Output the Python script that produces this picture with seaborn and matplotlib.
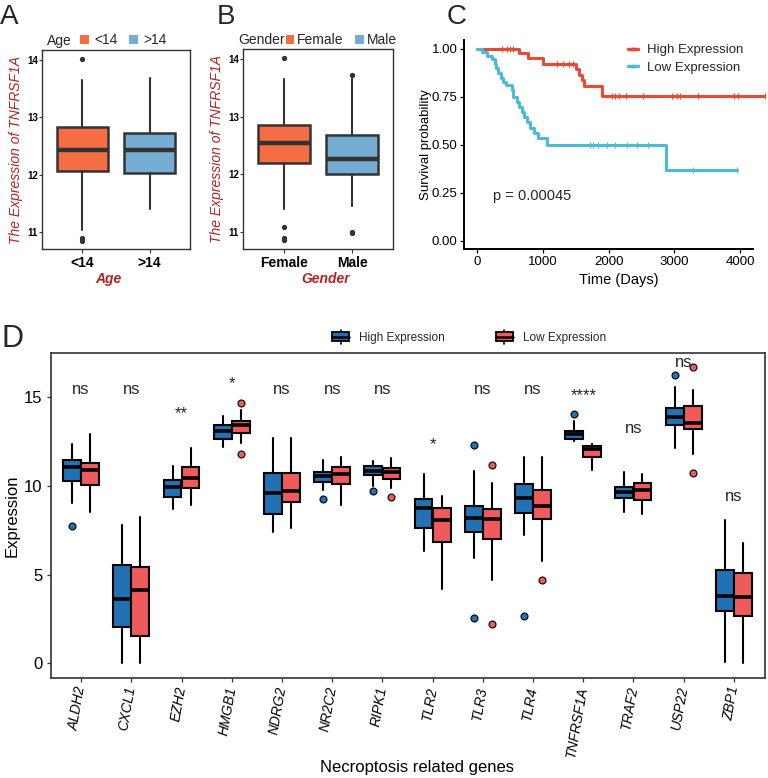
import numpy as np
import matplotlib
matplotlib.use("Agg")
import matplotlib.pyplot as plt
import seaborn as sns
from matplotlib.patches import Patch, Rectangle
from matplotlib.lines import Line2D
from matplotlib.legend_handler import HandlerBase

# ---------------- DATA ----------------
# Panel A (Age)
age_groups = ["<14", ">14"]
age_q1 = [12.07, 12.03]
age_med = [12.44, 12.43]
age_q3 = [12.83, 12.72]
age_whislo = [11.03, 11.40]
age_whishi = [13.66, 13.69]
age_fliers = [[14.02, 10.90, 10.84], []]

# Panel B (Gender)
gender_groups = ["Female", "Male"]
gender_q1 = [12.20, 12.01]
gender_med = [12.54, 12.26]
gender_q3 = [12.86, 12.69]
gender_whislo = [11.40, 11.44]
gender_whishi = [13.65, 13.68]
gender_fliers = [[14.02, 11.09, 10.90, 10.85], [13.72, 11.00, 10.98]]

# Panel C (Kaplan-Meier)
km_high_time = [0, 630, 770, 1000, 1510, 1550, 1590, 1620, 1900, 4380]
km_high_surv = [1.0, 0.979, 0.95, 0.922, 0.892, 0.863, 0.835, 0.806, 0.754, 0.754]
km_low_time = [0, 67, 143, 219, 270, 285, 320, 356, 396, 437, 523, 548, 600, 639,
               676, 711, 752, 802, 863, 928, 1065, 2872, 3948]
km_low_surv = [1.0, 0.984, 0.964, 0.946, 0.919, 0.898, 0.872, 0.849, 0.828, 0.811,
               0.785, 0.75, 0.724, 0.698, 0.672, 0.646, 0.617, 0.585, 0.559, 0.533,
               0.498, 0.368, 0.368]
km_high_censor = [371, 447, 498, 548, 1218, 1309, 1400, 1461, 2046, 2096, 2161, 2263,
                  2517, 2959, 3035, 3085, 3364, 3907, 3973, 4379]
km_low_censor = [1715, 1766, 1842, 1970, 2096, 2274, 2426, 2603, 3288, 3948]
km_pvalue = "p = 0.00045"

# Panel D (genes)
genes = ["ALDH2", "CXCL1", "EZH2", "HMGB1", "NDRG2", "NR2C2", "RIPK1", "TLR2",
         "TLR3", "TLR4", "TNFRSF1A", "TRAF2", "USP22", "ZBP1"]
high_q1 = [10.30, 2.03, 9.40, 12.63, 8.40, 10.24, 10.62, 7.61, 7.39, 8.46, 12.65, 9.30, 13.44, 2.95]
high_med = [11.05, 3.64, 9.96, 13.12, 9.62, 10.56, 10.86, 8.74, 8.21, 9.32, 12.93, 9.68, 13.91, 3.81]
high_q3 = [11.47, 5.56, 10.34, 13.44, 10.75, 10.81, 11.13, 9.27, 8.87, 10.11, 13.12, 9.96, 14.38, 5.26]
high_lo = [9.06, 0.03, 8.69, 12.18, 7.42, 9.77, 10.00, 6.35, 5.96, 7.24, 12.56, 8.55, 12.13, 0.09]
high_hi = [12.37, 7.80, 11.13, 13.97, 12.69, 11.47, 11.43, 10.68, 10.85, 11.65, 13.68, 10.81, 15.57, 8.08]
high_fliers = [[7.76], [], [], [], [], [9.25], [9.72], [], [12.31, 2.54], [2.69], [14.04], [], [16.24], []]

low_q1 = [10.06, 1.56, 9.87, 12.97, 9.12, 10.11, 10.38, 6.82, 7.01, 8.12, 11.62, 9.21, 13.23, 2.67]
low_med = [10.90, 4.12, 10.43, 13.44, 9.73, 10.68, 10.81, 8.08, 8.12, 8.87, 12.07, 9.77, 13.54, 3.72]
low_q3 = [11.28, 5.45, 11.09, 13.67, 10.75, 11.09, 11.03, 8.74, 8.68, 9.77, 12.26, 10.15, 14.51, 5.08]
low_lo = [8.55, 0.03, 8.93, 12.44, 7.65, 8.93, 9.87, 4.17, 4.70, 5.77, 10.90, 8.42, 11.80, 0.03]
low_hi = [12.93, 8.23, 12.13, 14.29, 12.69, 11.65, 11.56, 9.44, 10.19, 11.65, 12.37, 10.68, 15.41, 6.77]
low_fliers = [[], [], [], [14.70, 11.80], [], [], [9.40], [], [11.18, 2.22], [4.70], [], [], [16.69, 10.71], []]

sig_labels = ["ns", "ns", "**", "*", "ns", "ns", "ns", "*", "ns", "ns", "****", "ns", "ns", "ns"]
sig_y = [15.19, 15.19, 13.8, 15.5, 15.19, 15.19, 15.19, 12.07, 15.19, 15.19, 14.85, 13.0, 16.73, 9.17]

# ---------------- STYLE ----------------
sns.set_theme(style="ticks")
plt.rcParams["font.family"] = ["Liberation Sans", "DejaVu Sans"]

W, H = 768, 778
fig = plt.figure(figsize=(W / 100, H / 100), dpi=100)


def ax_px(l, t, r, b):
    return fig.add_axes([l / W, 1 - b / H, (r - l) / W, (b - t) / H])


def make_stats(q1, med, q3, lo, hi, fl):
    return [dict(q1=a, med=m, q3=c, whislo=l, whishi=h, fliers=f)
            for a, m, c, l, h, f in zip(q1, med, q3, lo, hi, fl)]


ORANGE = "#F46D43"
LBLUE = "#74ADD1"
FIRE = "#B22222"
EDGE = "#333333"


def draw_ab(ax, groups, q1, med, q3, lo, hi, fl, xlabel, xlabel_x):
    st = make_stats(q1, med, q3, lo, hi, fl)
    bp = ax.bxp(st, positions=range(len(groups)), widths=0.76, patch_artist=True,
                showcaps=False,
                boxprops=dict(edgecolor=EDGE, linewidth=1.8),
                medianprops=dict(color=EDGE, linewidth=3.2),
                whiskerprops=dict(color=EDGE, linewidth=1.5),
                flierprops=dict(marker="o", markersize=2.8, markerfacecolor=EDGE,
                                markeredgecolor=EDGE, linestyle="none"))
    for box, c in zip(bp["boxes"], [ORANGE, LBLUE]):
        box.set_facecolor(c)
    ax.set_xlim(-0.6, 1.6)
    ax.set_ylim(10.70, 14.18)
    ax.set_yticks([11, 12, 13, 14])
    ax.set_xticks(range(len(groups)))
    ax.set_xticklabels(groups)
    for lab in ax.get_xticklabels():
        lab.set_fontweight("bold")
        lab.set_fontsize(10)
        lab.set_color("black")
    for lab in ax.get_yticklabels():
        lab.set_fontweight("bold")
        lab.set_fontsize(7)
        lab.set_color("black")
    for s in ax.spines.values():
        s.set_color(EDGE)
        s.set_linewidth(1.0)
    ax.tick_params(axis="x", length=3, width=0.8, color=EDGE, pad=2)
    ax.tick_params(axis="y", length=2, width=0.8, color=EDGE, pad=1)
    ax.set_ylabel("The Expression of TNFRSF1A", fontsize=10, color=FIRE, style="italic")
    ax.yaxis.set_label_coords(-0.128, 0.5)
    ax.set_xlabel(xlabel, fontsize=10, color=FIRE, style="italic", fontweight="bold")
    ax.xaxis.set_label_coords(xlabel_x, -0.115)


# ---- Panel A ----
axA = ax_px(42, 50, 190, 249)
draw_ab(axA, age_groups, age_q1, age_med, age_q3, age_whislo, age_whishi, age_fliers,
        "Age", 0.449)
fig.text(47 / W, 1 - 40.5 / H, "Age", fontsize=10, va="center", ha="left")
fig.legend(handles=[Patch(facecolor=ORANGE, edgecolor="none", label=age_groups[0]),
                    Patch(facecolor=LBLUE, edgecolor="none", label=age_groups[1])],
           loc="center left", bbox_to_anchor=(80 / W, 1 - 40.5 / H), ncol=2,
           handlelength=0.65, handleheight=0.6, handletextpad=0.35, columnspacing=0.85,
           borderpad=0, borderaxespad=0, frameon=False, fontsize=10)

# ---- Panel B ----
axB = ax_px(243, 49, 393, 249)
draw_ab(axB, gender_groups, gender_q1, gender_med, gender_q3, gender_whislo,
        gender_whishi, gender_fliers, "Gender", 0.553)
fig.text(238 / W, 1 - 40 / H, "Gender", fontsize=10, va="center", ha="left")
fig.legend(handles=[Patch(facecolor=ORANGE, edgecolor="none", label=gender_groups[0]),
                    Patch(facecolor=LBLUE, edgecolor="none", label=gender_groups[1])],
           loc="center left", bbox_to_anchor=(286 / W, 1 - 40 / H), ncol=2,
           handlelength=0.6, handleheight=0.6, handletextpad=0.2, columnspacing=0.85,
           borderpad=0, borderaxespad=0, frameon=False, fontsize=10)

# ---- Panel C ----
RED = "#E64B35"
CYAN = "#4DBBD5"
axC = ax_px(464.3, 40, 765, 249.3)
sns.lineplot(x=km_high_time, y=km_high_surv, ax=axC, drawstyle="steps-post",
             color=RED, linewidth=2.2, estimator=None, sort=False)
sns.lineplot(x=km_low_time, y=km_low_surv, ax=axC, drawstyle="steps-post",
             color=CYAN, linewidth=2.2, estimator=None, sort=False)


def surv_at(times, surv, t):
    idx = np.searchsorted(np.asarray(times), t, side="right") - 1
    return np.asarray(surv)[idx]


axC.plot(km_high_censor, surv_at(km_high_time, km_high_surv, km_high_censor),
         linestyle="none", marker="|", markersize=4, markeredgewidth=0.9, color=RED)
axC.plot(km_low_censor, surv_at(km_low_time, km_low_surv, km_low_censor),
         linestyle="none", marker="|", markersize=4, markeredgewidth=0.9, color=CYAN)
axC.set_xlim(-198, 4380)
axC.set_ylim(-0.045, 1.045)
axC.set_xticks([0, 1000, 2000, 3000, 4000])
axC.set_yticks([0, 0.25, 0.5, 0.75, 1.0])
axC.set_yticklabels(["0.00", "0.25", "0.50", "0.75", "1.00"])
axC.tick_params(labelsize=9.5, length=3, width=0.9, color="black", labelcolor="black", pad=2)
for side in ["top", "right"]:
    axC.spines[side].set_visible(False)
for side in ["left", "bottom"]:
    axC.spines[side].set_color("black")
    axC.spines[side].set_linewidth(1.4)
axC.spines["bottom"].set_bounds(-198, 4192)
axC.set_ylabel("Survival probability", fontsize=9.5, color="black")
axC.yaxis.set_label_coords(-0.107, 0.5)
axC.set_xlabel("Time (Days)", fontsize=10.5, color="black")
axC.xaxis.set_label_coords(0.513, -0.113)
axC.text(243, 0.212, km_pvalue, fontsize=10.5, ha="left", va="baseline")
axC.legend(handles=[Line2D([], [], color=RED, lw=2.5, marker="|", markersize=3,
                           label="High Expression"),
                    Line2D([], [], color=CYAN, lw=2.5, marker="|", markersize=3,
                           label="Low Expression")],
           loc="upper left", bbox_to_anchor=(628 / W, 1 - 44 / H),
           bbox_transform=fig.transFigure, handlelength=0.76, handletextpad=0.68,
           labelspacing=0.4, borderpad=0, borderaxespad=0, frameon=False, fontsize=9.5)

# ---- Panel D ----
DBLUE = "#2271B3"
DRED = "#EF5A5A"
axD = ax_px(51, 353, 765, 678)
pos = np.arange(len(genes))
for q1, med, q3, lo, hi, fl, off, col in [
        (high_q1, high_med, high_q3, high_lo, high_hi, high_fliers, -0.18, DBLUE),
        (low_q1, low_med, low_q3, low_lo, low_hi, low_fliers, 0.18, DRED)]:
    st = make_stats(q1, med, q3, lo, hi, fl)
    bp = axD.bxp(st, positions=pos + off, widths=0.355, patch_artist=True,
                 showcaps=False, manage_ticks=False,
                 boxprops=dict(edgecolor="black", linewidth=1.5, facecolor=col),
                 medianprops=dict(color="black", linewidth=2.6),
                 whiskerprops=dict(color="black", linewidth=1.5),
                 flierprops=dict(marker="o", markersize=5, markerfacecolor=col,
                                 markeredgecolor="black", markeredgewidth=0.8,
                                 linestyle="none"))
for x, lab, y in zip(pos, sig_labels, sig_y):
    axD.text(x, y, lab, ha="center", va="baseline", fontsize=12)
axD.set_xlim(-0.6, 13.62)
axD.set_ylim(-0.83, 17.5)
axD.set_yticks([0, 5, 10, 15])
axD.set_xticks(pos)
axD.set_xticklabels(genes, rotation=80, ha="right", va="center",
                    rotation_mode="anchor", style="italic", fontsize=10)
axD.tick_params(axis="y", labelsize=12)
axD.tick_params(length=3, width=0.9, color="#333333", labelcolor="black", pad=3)
for s in axD.spines.values():
    s.set_color("#333333")
    s.set_linewidth(1.2)
axD.set_ylabel("Expression", fontsize=12, color="black")
axD.yaxis.set_label_coords(-0.0434, 0.5)
axD.set_xlabel("Necroptosis related genes", fontsize=12, color="black")
axD.xaxis.set_label_coords(0.512, -0.252)


class BoxKeyHandler(HandlerBase):
    def create_artists(self, legend, orig_handle, xdescent, ydescent, width, height,
                       fontsize, trans):
        fc = orig_handle.get_facecolor()
        x0, y0 = -xdescent, -ydescent
        cx = x0 + width / 2
        box = Rectangle((x0, y0 + height * 0.05), width, height * 0.9, facecolor=fc,
                        edgecolor="black", linewidth=1.3, transform=trans)
        med = Line2D([x0, x0 + width], [y0 + height / 2] * 2, color="black", lw=1.8,
                     transform=trans)
        wt = Line2D([cx, cx], [y0 + height * 0.95, y0 + height * 1.25], color="black",
                    lw=1.2, transform=trans)
        wb = Line2D([cx, cx], [y0 + height * 0.05, y0 - height * 0.25], color="black",
                    lw=1.2, transform=trans)
        return [box, med, wt, wb]


fig.legend(handles=[Patch(facecolor=DBLUE, label="High Expression"),
                    Patch(facecolor=DRED, label="Low Expression")],
           handler_map={Patch: BoxKeyHandler()},
           loc="center left", bbox_to_anchor=(332 / W, 1 - 337.7 / H), ncol=2,
           handlelength=1.45, handleheight=0.85, handletextpad=0.85, columnspacing=4.3,
           borderpad=0, borderaxespad=0, frameon=False, fontsize=8.5)

# ---- Panel letters ----
for lx, ly, letter, fs in [(0, 17, "A", 20), (217, 17, "B", 20), (447, 17, "C", 20),
                           (2, 339, "D", 22)]:
    fig.text(lx / W, 1 - ly / H, letter, fontsize=fs, ha="left", va="center")

fig.savefig("out.png", dpi=100)
